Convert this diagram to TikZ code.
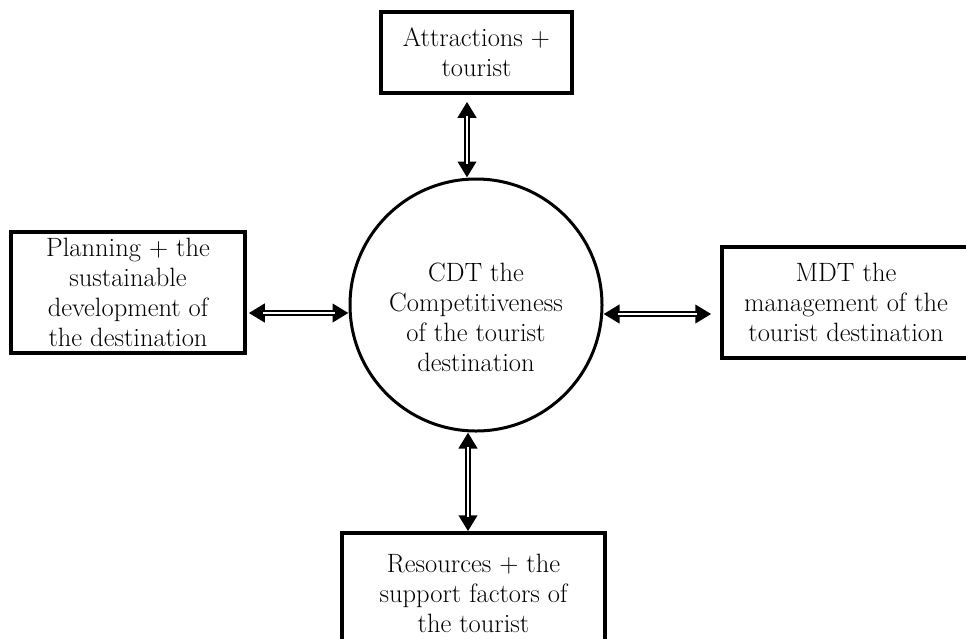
\documentclass[tikz,border=0pt]{standalone}
\usetikzlibrary{arrows.meta}
\begin{document}
\begin{tikzpicture}[x=1pt, y=-1pt,
  every node/.style={font=\fontsize{26.5}{30}\selectfont, align=center},
  box/.style={draw, line width=3.5pt, inner sep=0pt},
  hub/.style={draw, circle, line width=3pt, minimum size=252pt, inner sep=0pt},
  link/.style={line width=6.5pt, {Triangle[length=16pt,width=18pt]}-{Triangle[length=16pt,width=18pt]},
    postaction={draw=white, line width=1.6pt, arrows=-, shorten <=14pt, shorten >=14pt}}]
  \clip (0,0) rectangle (966,638);

  \node[hub] (cdt) at (476,305) {};
  \node (cdttext) at (476,317) {CDT the\\Competitiveness\\of the tourist\\destination};

  \node[box, minimum width=191pt, minimum height=81pt] (att)  at (476.5,52.5) {Attractions +\\tourist};
  \node[box, minimum width=234pt, minimum height=121pt] (plan) at (128,292.5) {Planning + the\\sustainable\\development of\\the destination};
  \node[box, minimum width=248pt, minimum height=111pt] (mdt)  at (846,302.5) {MDT the\\management of the\\tourist destination};
  \node[box, minimum width=263pt, minimum height=120pt] (res)  at (473.5,593) {Resources + the\\support factors of\\the tourist};

  \draw[link] ([xshift=-9.5pt,yshift=-7pt]att.south) -- ([xshift=-9pt]cdt.north);
  \draw[link] ([xshift=2pt,yshift=-20.5pt]plan.east) -- ([yshift=-8pt]cdt.west);
  \draw[link] ([yshift=-9pt]cdt.east) -- ([xshift=-9pt,yshift=-11.5pt]mdt.west);
  \draw[link] ([xshift=-8pt]cdt.south) -- ([xshift=-5.5pt]res.north);
\end{tikzpicture}
\end{document}
